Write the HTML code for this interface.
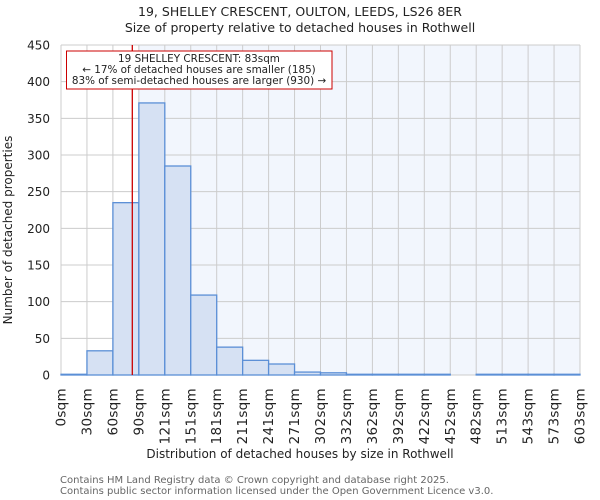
<!DOCTYPE html><html><head><style>body{margin:0;background:#fff}svg{display:block}text{font-family:"DejaVu Sans","Liberation Sans",sans-serif;fill:#222}</style></head><body>
<svg width="600" height="500" xmlns="http://www.w3.org/2000/svg">
<text x="300" y="16" font-size="12.5" text-anchor="middle">19, SHELLEY CRESCENT, OULTON, LEEDS, LS26 8ER</text>
<text x="300" y="32" font-size="12.5" text-anchor="middle">Size of property relative to detached houses in Rothwell</text>
<rect x="138.3" y="45" width="441.7" height="330" fill="#f2f6fd"/>
<g id="g" stroke="#cccccc" stroke-width="1"></g>
<g id="b" fill="#d6e1f3" stroke="#5b8fd6" stroke-width="1.3"></g>
<line x1="132.3" y1="45" x2="132.3" y2="375" stroke="#cc0000" stroke-width="1.3"/>
<rect x="66.5" y="51" width="265.5" height="38" fill="#fff" stroke="#cc0000" stroke-width="1"/>
<text x="199" y="62" font-size="10.4" text-anchor="middle">19 SHELLEY CRESCENT: 83sqm</text>
<text x="199" y="73" font-size="10.4" text-anchor="middle">← 17% of detached houses are smaller (185)</text>
<text x="199" y="84" font-size="10.4" text-anchor="middle">83% of semi-detached houses are larger (930) →</text>
<g id="yl" font-size="12" text-anchor="end"></g>
<g id="xl" font-size="13.5" letter-spacing="0.3"></g>
<text x="300" y="458" font-size="12" text-anchor="middle">Distribution of detached houses by size in Rothwell</text>
<text transform="translate(12,230) rotate(-90)" font-size="12" text-anchor="middle">Number of detached properties</text>
<text x="60" y="483" font-size="10" style="fill:#666">Contains HM Land Registry data © Crown copyright and database right 2025.</text>
<text x="60" y="494" font-size="10" style="fill:#666">Contains public sector information licensed under the Open Government Licence v3.0.</text>
<script>
var ns="http://www.w3.org/2000/svg",L=61,W=25.95,Y0=375,k=330/450;
function el(p,t,a,tx){var e=document.createElementNS(ns,t);for(var i in a)e.setAttribute(i,a[i]);if(tx!==undefined)e.textContent=String(tx);document.getElementById(p).appendChild(e);}
for(var i=0;i<=20;i++){var x=L+i*W;el("g","line",{x1:x,y1:45,x2:x,y2:375});}
for(var v=0;v<=450;v+=50){var y=Y0-v*k;el("g","line",{x1:L,y1:y,x2:580,y2:y});el("yl","text",{x:50,y:y+4.5},v);}
var c=[1,33,235,371,285,109,38,20,15,4,3,1,1,1,1,0,1,1,1,1];
c.forEach(function(n,i){if(n>0)el("b","rect",{x:L+i*W,y:Y0-n*k,width:W,height:n*k});});
var lb=["0sqm","30sqm","60sqm","90sqm","121sqm","151sqm","181sqm","211sqm","241sqm","271sqm","302sqm","332sqm","362sqm","392sqm","422sqm","452sqm","482sqm","513sqm","543sqm","573sqm","603sqm"];
lb.forEach(function(t,i){var x=L+i*W+4.5;el("xl","text",{x:0,y:0,transform:"translate("+x+",388) rotate(-90)","text-anchor":"end"},t);});
</script>
</svg></body></html>
